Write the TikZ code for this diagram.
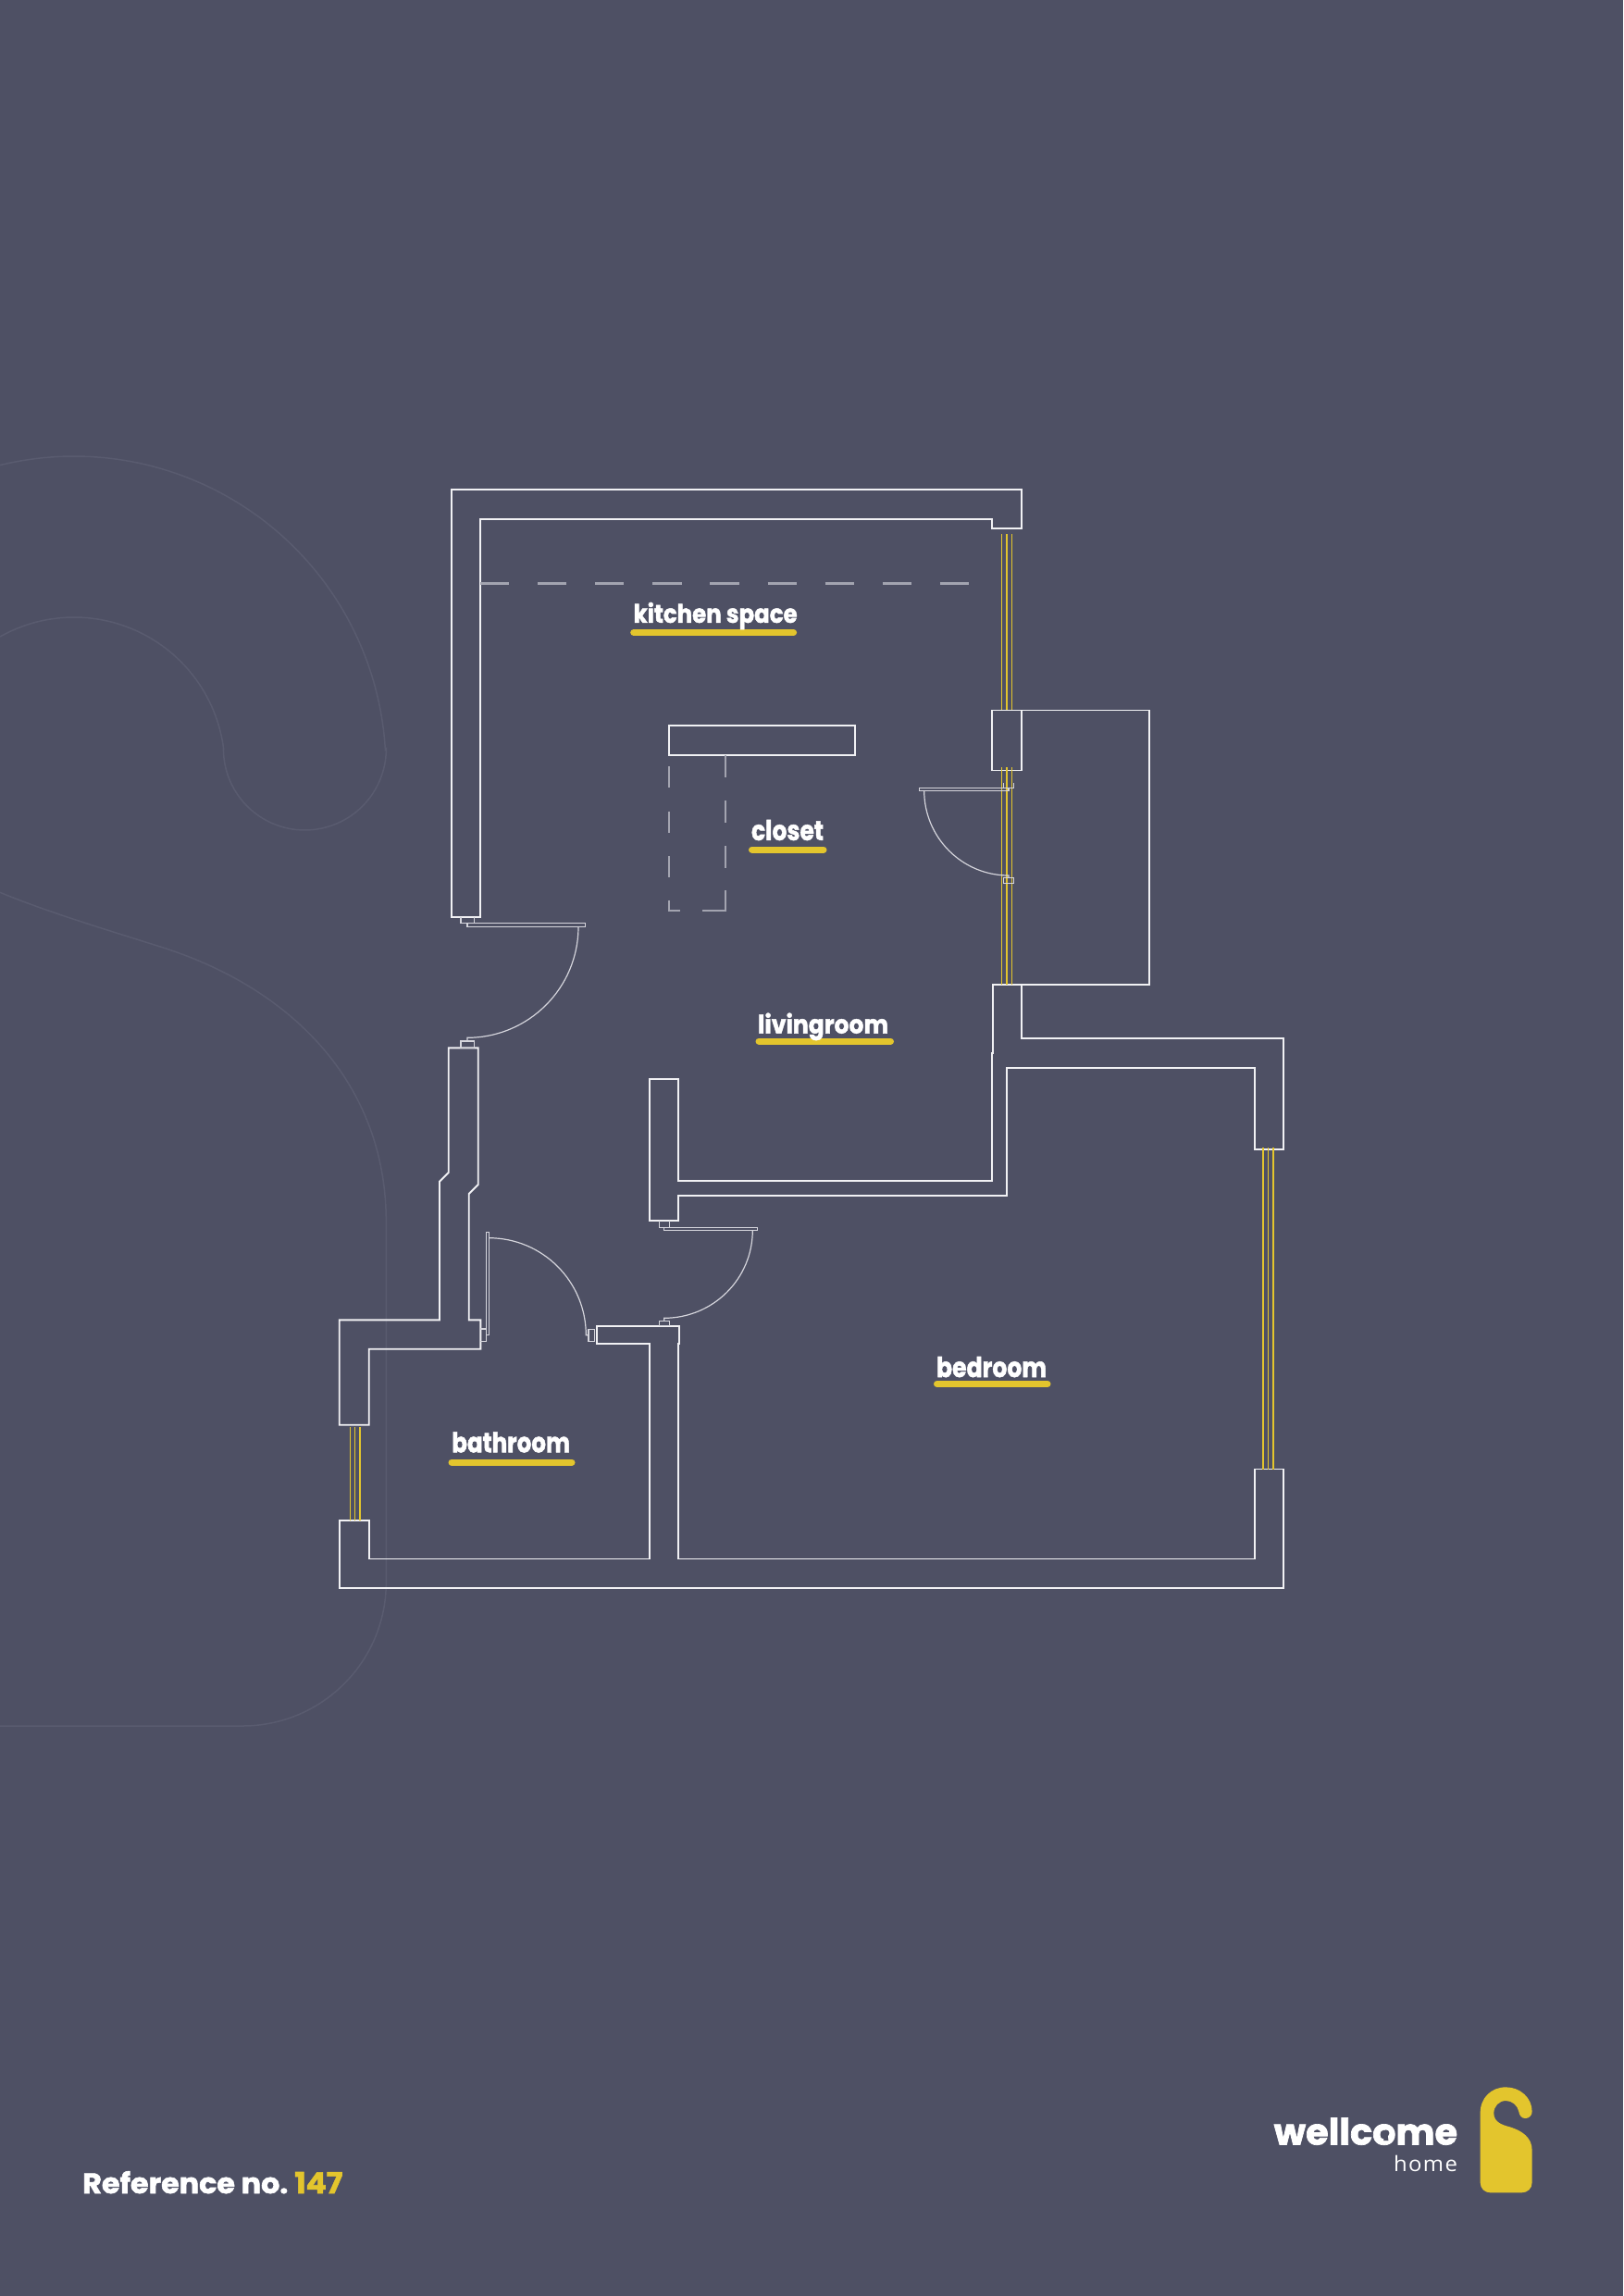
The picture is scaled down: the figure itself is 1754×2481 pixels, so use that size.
\documentclass[tikz,border=0pt]{standalone}
\usepackage{fontspec}
\usepackage{graphicx}
\newfontfamily\labfont{Poppins}[BoldFeatures={FakeBold=1.8}]
\newfontfamily\homefont{Open Sans}[LetterSpace=6]
\definecolor{bgc}{HTML}{4E5064}
\definecolor{ghost}{HTML}{595B6F}
\definecolor{yel}{HTML}{E3C52D}
\definecolor{thinc}{HTML}{D5D5DC}
\definecolor{dashc}{HTML}{A3A4B0}
\definecolor{wallc}{HTML}{F1F1F4}
\tikzset{
 wall/.style={draw=wallc,line width=1.9pt,line join=miter},
 thinl/.style={draw=thinc,line width=1.2pt},
 glass/.style={draw=yel,line width=1.5pt},
 guide/.style={draw=dashc,line width=2pt},
 ghostl/.style={draw=ghost,line width=1.5pt},
 bar/.style={draw=yel,line cap=round,line width=7pt},
 lab/.style={anchor=base west,inner sep=0pt,outer sep=0pt,text=white},
}
\newcommand{\labt}[3]{\resizebox{#2pt}{#3pt}{\labfont\bfseries #1}}
\begin{document}
\begin{tikzpicture}[x=1pt,y=-1pt]
\useasboundingbox (0,0) rectangle (1754,2481);
\fill[bgc] (0,0) rectangle (1754,2481);
% ghost hanger
\draw[ghostl] plot[domain=-103.7:-3.4,samples=80] ({80+337*cos(\x)},{830+337*sin(\x)})
  -- plot[domain=0:180,samples=50] ({329.4+88*cos(\x)},{809+88*sin(\x)})
  -- plot[domain=-7:-119.4,samples=60] ({80+163*cos(\x)},{830+163*sin(\x)});
\draw[ghostl] (0,964.3) .. controls (50,985) and (110,1003) .. (170,1022)
  .. controls (320,1068) and (417.3,1175) .. (417.3,1320) -- (417.3,1710)
  .. controls (417.3,1795.6) and (347.6,1865) .. (262,1865) -- (0,1865);
% walls
\draw[wall] (488,529.3)--(1104,529.3)--(1104,571.4)--(1072.3,571.4)--(1072.3,560.7)--(519,560.7)--(519,991)--(488,991)--cycle;
\draw[wall] (1072.3,767.5) rectangle (1104,832.5);
\draw[wall] (1104,767.5)--(1242,767.5)--(1242,1064.3)--(1104,1064.3)--(1104,1122.3)--(1387.3,1122.3)--(1387.3,1242)--(1356,1242)--(1356,1154)--(1088,1154)--(1088,1291.7)--(733,1291.7)--(733,1318.7)--(701.7,1318.7)--(701.7,1165.7)--(733,1165.7)--(733,1275.7)--(1071.7,1275.7)--(1071.7,1138)--(1072.7,1138)--(1072.7,1064.3)--(1104,1064.3);
\draw[wall] (484.7,1132.3)--(516.7,1132.3)--(516.7,1280)--(506.7,1290)--(506.7,1426.3)--(519.3,1426.3)--(519.3,1457.7)--(398.7,1457.7)--(398.7,1539.7)--(366.7,1539.7)--(366.7,1426.3)--(475,1426.3)--(475,1276.7)--(484.7,1267)--cycle;
\draw[wall] (366.7,1643.3)--(398.7,1643.3)--(398.7,1684.5)--(702,1684.5)--(702,1451.7)--(644.7,1451.7)--(644.7,1432.7)--(734.3,1432.7)--(734.3,1451.7)--(733,1451.7)--(733,1684.5)--(1355.7,1684.5)--(1355.7,1587.5)--(1387.3,1587.5)--(1387.3,1716)--(366.7,1716)--cycle;
\draw[wall] (722.8,784.3) rectangle (923.6,816.4);
% glass
\foreach \gx in {1082.7,1088,1093.7} {
  \draw[glass] (\gx,577)--(\gx,767);
  \draw[glass] (\gx,829)--(\gx,1064);
}
\foreach \gx in {378.3,383.3,389} \draw[glass] (\gx,1542)--(\gx,1643);
\foreach \gx in {1365,1370.3,1375.8} \draw[glass] (\gx,1240)--(\gx,1587.5);
% guides
\draw[guide,line width=2.8pt,dash pattern=on 31.2pt off 30.9pt] (519,630.7)--(1048,630.7);
\foreach \gy in {828,876.6,925.2} \draw[guide] (723.2,\gy)--(723.2,\gy+23);
\draw[guide] (723.2,972.6)--(723.2,984.3)--(735,984.3);
\foreach \gy in {816.4,865,913.6} \draw[guide] (783.5,\gy)--(783.5,\gy+24);
\draw[guide] (783.5,962)--(783.5,984.3)--(759,984.3);
% door left
\draw[thinl] (498,991)--(498,997.7)--(505,997.7) (512.3,991)--(512.3,997.7);
\draw[thinl] (505,997.7) rectangle (632.3,1001.3);
\draw[thinl] (625,1001.3) .. controls (625,1067.6) and (571.3,1121.3) .. (505,1121.3)--(505,1125);
\draw[thinl] (498,1125) rectangle (512.3,1132.3);
% door bedroom
\draw[thinl] (712.3,1318.7)--(712.3,1326.7)--(717.7,1326.7) (723.3,1318.7)--(723.3,1326.7);
\draw[thinl] (717.7,1326.7) rectangle (818.7,1329.3);
\draw[thinl] (813.3,1329.3) .. controls (813.3,1382) and (770.5,1424.3) .. (717.7,1424.3)--(717.7,1427.3);
\draw[thinl] (712.3,1427.3) rectangle (723.7,1432.7);
% door bathroom
\draw[thinl] (519.3,1436)--(525.3,1436) (519.3,1449.3)--(525.3,1449.3)--(525.3,1442.7);
\draw[thinl] (525.3,1331.3) rectangle (528.3,1442.7);
\draw[thinl] (528.3,1337.7) .. controls (586.3,1337.7) and (633.3,1384.7) .. (633.3,1442.7)--(636,1442.7);
\draw[thinl] (636,1436.3) rectangle (642.7,1449.3);
% door closet
\draw[thinl] (1084.3,846.3)--(1084.3,851.3) (1095.7,846.3)--(1095.7,851.6)--(1090,851.6);
\draw[thinl] (993.3,851.3) rectangle (1090,854.3);
\draw[thinl] (998.7,854.3) .. controls (998.7,904.8) and (1039.5,946) .. (1090,946)--(1090,948.3);
\draw[thinl] (1084.3,948.3) rectangle (1095.7,954.3);
% labels
\draw[bar] (684.7,683.5)--(857.6,683.5);
\draw[bar] (812.5,918)--(890,918);
\draw[bar] (820,1125)--(962.5,1125);
\draw[bar] (1012.5,1495.4)--(1132,1495.4);
\draw[bar] (488,1580)--(618,1580);
\node[lab] (kitchen) at (684.6,672.9) {\labt{kitchen space}{177}{22}};
\node[lab] (closet) at (812,907.9) {\labt{closet}{78}{22}};
\node[lab] (living) at (819,1116.6) {\labt{livingroom}{141}{22}};
\node[lab] (bedroom) at (1012,1488) {\labt{bedroom}{119}{22}};
\node[lab] (bathroom) at (488.3,1569.3) {\labt{bathroom}{127.7}{22}};
\node[lab] (refno) at (89.3,2370) {\labt{Reference no.}{222}{24}};
\node[lab,text=yel] (refnum) at (318.3,2370) {\labt{147}{52}{23}};
\node[lab] (brand) at (1376.7,2317.5) {\labt{wellcome}{198.3}{29}};
\fill[bgc] (1497.8,2305) circle[radius=3.6pt];
\fill[bgc] (1496.4,2305) -- (1499.2,2305) -- (1500.4,2313) -- (1495.2,2313) -- cycle;
\node[lab,anchor=base east] (home) at (1575,2346) {\resizebox{69pt}{17.3pt}{\homefont home}};
% logo
\begin{scope}[shift={(1340,2230)},x=0.3333pt,y=-0.3333pt]
\fill[yel] (779,160) .. controls (779,110) and (815,76) .. (862,76)
  .. controls (908,76) and (947,110) .. (947,155)
  .. controls (947,168) and (937,177) .. (925,177)
  .. controls (913,177) and (906,168) .. (904,155)
  .. controls (900,135) and (882,120) .. (862,120)
  .. controls (840,120) and (823,138) .. (823,160)
  .. controls (823,190) and (850,198) .. (875,205)
  .. controls (915,217) and (947,240) .. (947,280)
  -- (947,385) .. controls (947,405) and (932,418) .. (913,418)
  -- (812,418) .. controls (794,418) and (779,405) .. (779,385) -- cycle;
\end{scope}
\end{tikzpicture}
\end{document}
